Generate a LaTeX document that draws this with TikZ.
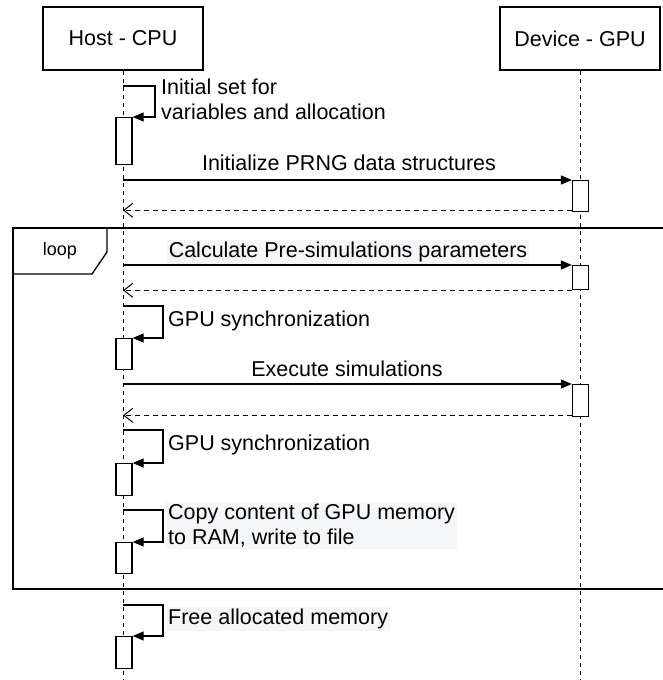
\documentclass[tikz,border=0pt]{standalone}
\usepackage{fontspec}
\setmainfont{Liberation Sans}
\usetikzlibrary{positioning,arrows.meta,calc}
\definecolor{ink}{HTML}{000000}
\definecolor{notebg}{HTML}{F5F6F8}
\tikzset{
  lane/.style={draw=ink, line width=1.3pt, minimum width=160pt, minimum height=63pt, font=\fontsize{21.5}{25}\selectfont, text=ink},
  act/.style={draw=ink, fill=white, line width=1.3pt, minimum width=16pt, inner sep=0pt, anchor=north},
  lbl/.style={font=\fontsize{21.5}{25}\selectfont, text=ink, inner sep=2pt, align=left},
  call/.style={draw=ink, line width=1.3pt, -{Triangle[length=11pt,width=9pt]}},
  reply/.style={draw=ink, line width=1pt, dash pattern=on 5pt off 4pt, -{Straight Barb[length=9pt,width=14pt]}},
}

\begin{document}
\begin{tikzpicture}[x=1pt, y=-1pt,
  life/.style={draw=ink, line width=1pt, dash pattern=on 4pt off 4pt},
  frame/.style={draw=ink, line width=1.3pt}]
\useasboundingbox (0,0) rectangle (663,680);
% loop frame with its tab
\draw[frame] (663,228) -- (13,228) -- (13,589) -- (663,589);
\draw[frame] (13,274) -- (92,274) -- (107,252) -- (107,228);
\node[font=\fontsize{18}{20}\selectfont, text=ink] (looplbl) at (60,251) {loop};

% participants and lifelines
\node[lane] (host) at (123,38.5) {Host - CPU};
\node[lane] (dev) at (580,38.5) {Device - GPU};
\coordinate (hostEnd) at (123,680);
\coordinate (devEnd) at (580,680);
\draw[life] (host.south) -- (hostEnd);
\draw[life] (dev.south) -- (devEnd);

% activation bars
\node[act, minimum height=47pt] (h1) at (124,117) {};
\node[act, minimum height=31pt] (h2) at (124,338) {};
\node[act, minimum height=32pt] (h3) at (124,463) {};
\node[act, minimum height=31pt] (h4) at (124,542) {};
\node[act, minimum height=32pt] (h5) at (124,636) {};
\node[act, minimum height=31pt] (d1) at (580.5,180) {};
\node[act, minimum height=24pt] (d2) at (580.5,265) {};
\node[act, minimum height=32pt] (d3) at (580.5,384) {};

% self calls on the host
\coordinate (s1) at (123,86);
\coordinate (s2) at (123,306);
\coordinate (s3) at (123,430);
\coordinate (s4) at (123,510);
\coordinate (s5) at (123,605);
\draw[call] (s1) -- ++(32,0) |- (h1.north east);
\draw[call] (s2) -- ++(40,0) |- (h2.north east);
\draw[call] (s3) -- ++(40,0) |- (h3.north east);
\draw[call] (s4) -- ++(40,0) |- (h4.north east);
\draw[call] (s5) -- ++(40,0) |- (h5.north east);

% calls to the device and their replies
\draw[call] (host.south |- d1.north) -- (d1.north west);
\draw[reply] ($(d1.south west)+(0,-2)$) -- (host.south |- {$(d1.south)+(0,-2)$});
\draw[call] (host.south |- d2.north) -- (d2.north west);
\draw[reply] (d2.south west) -- (host.south |- d2.south);
\draw[call] (host.south |- d3.north) -- (d3.north west);
\draw[reply] ($(d3.south west)+(0,-2)$) -- (host.south |- {$(d3.south)+(0,-2)$});

% message texts
\node[lbl, anchor=west] (t1) at (159,99.5) {Initial set for\\variables and allocation};
\node[lbl] (t2) at (349,163) {Initialize PRNG data structures};
\node[lbl, fill=notebg] (t3) at (348,252) {Calculate Pre-simulations parameters};
\node[lbl, anchor=west] (t4) at (166,321) {GPU synchronization};
\node[lbl] (t5) at (347,369) {Execute simulations};
\node[lbl, anchor=west] (t6) at (166,445) {GPU synchronization};
\node[lbl, anchor=west, fill=notebg] (t7) at (166,525.5) {Copy content of GPU memory\\to RAM, write to file};
\node[lbl, anchor=west, fill=notebg] (t8) at (166,619) {Free allocated memory};
\end{tikzpicture}
\end{document}
